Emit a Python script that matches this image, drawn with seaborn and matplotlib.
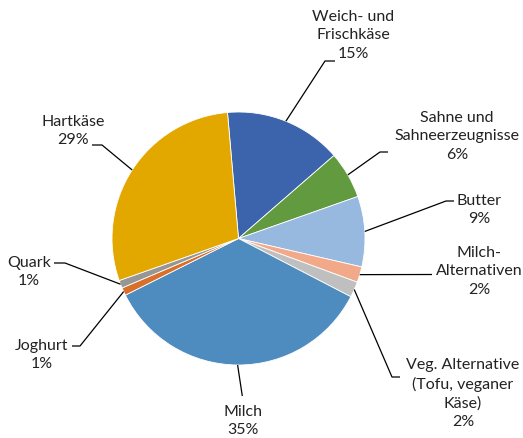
import numpy as np
import matplotlib
matplotlib.use('Agg')
import matplotlib.pyplot as plt
import seaborn as sns

sns.set_style('white')
plt.rcParams['font.family'] = ['Lato', 'DejaVu Sans']

# data (clockwise from top)
labels = ['Weich- und\nFrischkäse', 'Sahne und\nSahneerzeugnisse', 'Butter',
          'Milch-\nAlternativen', 'Veg. Alternative\n(Tofu, veganer\nKäse)',
          'Milch', 'Joghurt', 'Quark', 'Hartkäse']
shares = [15, 6, 9, 2, 2, 35, 1, 1, 29]
colors = ['#3C64AC', '#629A40', '#97B9E0', '#F2A98A', '#BFBFBF',
          '#4E8BBF', '#D9702A', '#969696', '#E3A800']

W, H = 523, 439
cx, cy, R = 238.5, H - 239.5, 126.5
start = 95

# label layout in pixels (text centre x, first line centre y, elbow, end of leader)
layout = [
    (353, 15, (325, 62), (335, 62)),
    (457, 116, (380, 153), (388, 153)),
    (479, 199, (446, 202), (454, 202)),
    (479, 251, (432, 275.5), (432, 275.5)),
    (463, 363, (392, 378), (400, 378)),
    (243, 410, (242.3, 397), (242.3, 397)),
    (42, 344, (80, 347), (72, 347)),
    (29, 261, (65, 264), (54, 264)),
    (73, 120, (102, 146), (92, 146)),
]

fig = plt.figure(figsize=(W / 100, H / 100), dpi=100)
ax = fig.add_axes([0, 0, 1, 1])

wedges, _ = ax.pie(shares, colors=colors, startangle=start, counterclock=False,
                   center=(cx, cy), radius=R,
                   wedgeprops=dict(edgecolor='white', linewidth=0.6))
ax.set_xlim(0, W)
ax.set_ylim(0, H)
ax.set_aspect('equal')
ax.axis('off')

total = sum(shares)
for w, lab, val, (tx, ty, elbow, end) in zip(wedges, labels, shares, layout):
    mid = np.deg2rad((w.theta1 + w.theta2) / 2)
    px, py = cx + R * np.cos(mid), cy + R * np.sin(mid)
    ax.plot([px, elbow[0], end[0]], [py, H - elbow[1], H - end[1]],
            color='black', lw=0.9, solid_capstyle='butt')
    ax.text(tx, H - ty + 5, f'{lab}\n{round(100 * val / total)}%', ha='center', va='top',
            fontsize=11.5, color='#222222', linespacing=1.4)

fig.savefig('out.png', dpi=100)
